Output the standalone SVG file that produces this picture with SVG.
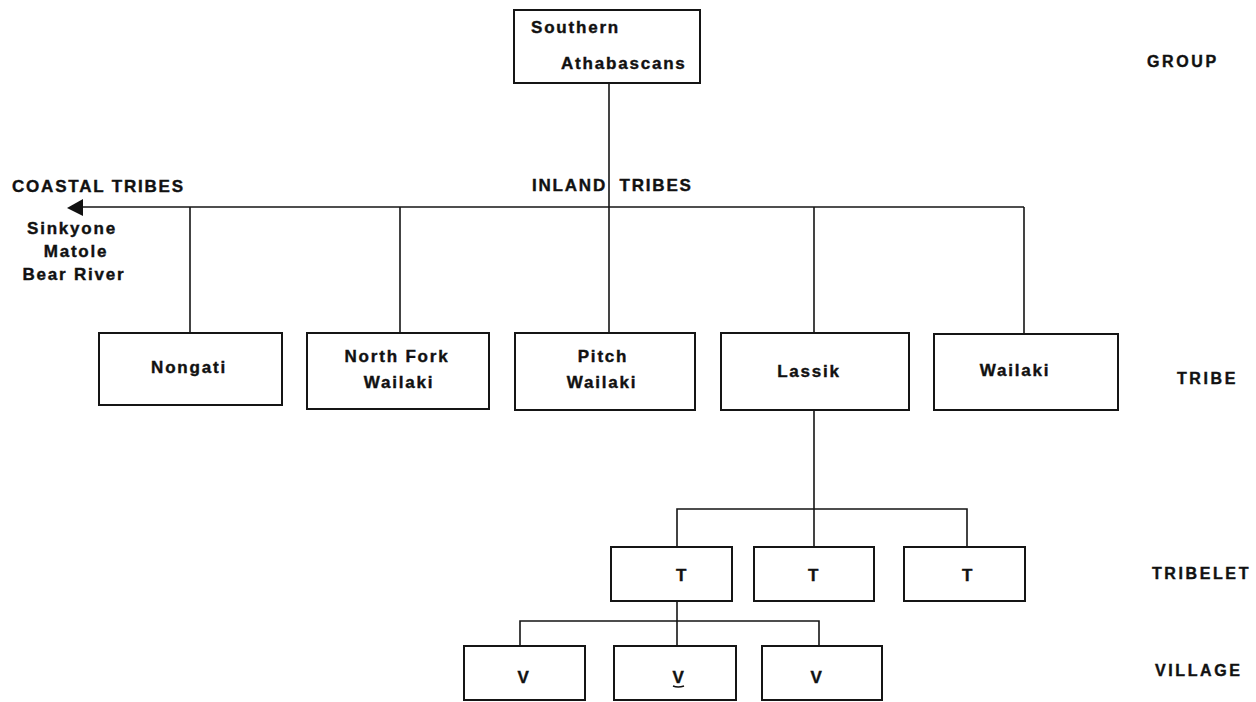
<svg xmlns="http://www.w3.org/2000/svg" width="1256" height="702" viewBox="0 0 1256 702">
<style>
.box{fill:#fff;stroke:#151515;stroke-width:2}
.ln{fill:none;stroke:#151515;stroke-width:1.6}
text{font-family:"Liberation Sans",Arial,sans-serif;font-weight:bold;font-size:17px;fill:#111;stroke:#111;stroke-width:0.4;letter-spacing:1.8px}
.c{text-anchor:middle}
.lvl{font-size:16px;letter-spacing:2.6px}
</style>
<rect width="1256" height="702" fill="#fff"/>
<g id="connectors">
<line class="ln" x1="609" y1="83" x2="609" y2="333"/>
<line class="ln" x1="1024" y1="207" x2="78" y2="207"/>
<path d="M67,208 L83,199 L83,216 Z" fill="#111"/>
<line class="ln" x1="190" y1="207" x2="190" y2="333"/>
<line class="ln" x1="400" y1="207" x2="400" y2="333"/>
<line class="ln" x1="814" y1="207" x2="814" y2="333"/>
<line class="ln" x1="1024" y1="207" x2="1024" y2="334"/>
<line class="ln" x1="814" y1="410" x2="814" y2="547"/>
<polyline class="ln" points="677,547 677,509 967,509 967,547"/>
<line class="ln" x1="677" y1="601" x2="677" y2="646"/>
<polyline class="ln" points="520,646 520,621 819,621 819,646"/>
</g>
<g id="group">
<rect class="box" x="514" y="10" width="186" height="73"/>
<text x="531" y="33">Southern</text>
<text x="561" y="69">Athabascans</text>
</g>
<g id="inland-label"><text x="532" y="191" word-spacing="6">INLAND TRIBES</text></g>
<g id="coastal">
<text x="12" y="192" letter-spacing="2.4">COASTAL TRIBES</text>
<text class="c" x="72" y="234">Sinkyone</text>
<text class="c" x="76" y="257">Matole</text>
<text class="c" x="74" y="280">Bear River</text>
</g>
<g id="nongati">
<rect class="box" x="99" y="333" width="183" height="72"/>
<text class="c" x="189" y="373">Nongati</text>
</g>
<g id="northfork">
<rect class="box" x="307" y="333" width="182" height="76"/>
<text class="c" x="397" y="362">North Fork</text>
<text class="c" x="399" y="388">Wailaki</text>
</g>
<g id="pitch">
<rect class="box" x="515" y="333" width="180" height="77"/>
<text class="c" x="603" y="362">Pitch</text>
<text class="c" x="602" y="388">Wailaki</text>
</g>
<g id="lassik">
<rect class="box" x="721" y="333" width="188" height="77"/>
<text class="c" x="809" y="377">Lassik</text>
</g>
<g id="wailaki">
<rect class="box" x="934" y="334" width="184" height="76"/>
<text class="c" x="1015" y="376">Wailaki</text>
</g>
<g id="t1"><rect class="box" x="611" y="547" width="121" height="54"/><text class="c" x="682" y="581">T</text></g>
<g id="t2"><rect class="box" x="754" y="547" width="120" height="54"/><text class="c" x="814" y="581">T</text></g>
<g id="t3"><rect class="box" x="904" y="547" width="121" height="54"/><text class="c" x="968" y="581">T</text></g>
<g id="v1"><rect class="box" x="464" y="646" width="121" height="54"/><text class="c" x="524" y="683">V</text></g>
<g id="v2"><rect class="box" x="614" y="646" width="122" height="54"/><text class="c" x="679" y="683">V</text><path d="M673,686 q5,2 11,0" fill="none" stroke="#111" stroke-width="1.4"/></g>
<g id="v3"><rect class="box" x="762" y="646" width="120" height="54"/><text class="c" x="817" y="683">V</text></g>
<g id="levels">
<text class="lvl" x="1147" y="67">GROUP</text>
<text class="lvl" x="1177" y="384">TRIBE</text>
<text class="lvl" x="1152" y="579">TRIBELET</text>
<text class="lvl" x="1155" y="676">VILLAGE</text>
</g>
</svg>
